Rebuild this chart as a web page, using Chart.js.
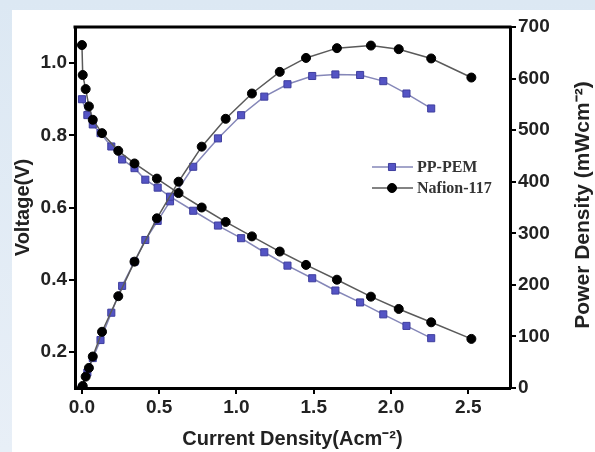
<!DOCTYPE html>
<html>
<head>
<meta charset="utf-8">
<script src="https://cdn.jsdelivr.net/npm/chart.js@4.4.1/dist/chart.umd.min.js"></script>
<style>
html, body { margin: 0; padding: 0; }
body { width: 595px; height: 452px; position: relative; overflow: hidden;
       background: linear-gradient(180deg, #dce8f3, #e8eff7); }
#panel { position: absolute; left: 12px; top: 10px; width: 583px; height: 442px; background: #fff; }
#wrap { position: absolute; left: 0; top: 0; width: 595px; height: 452px; }
</style>
</head>
<body>
<div id="panel"></div>
<div id="wrap"><canvas id="myChart"></canvas></div>
<script>
// PP-PEM: current density (A cm-2), voltage (V), power density (mW cm-2)
let ppCurrent = [0, 0.035, 0.07, 0.12, 0.19, 0.26, 0.34, 0.41, 0.49, 0.57, 0.72, 0.88, 1.03, 1.18, 1.33, 1.49, 1.64, 1.80, 1.95, 2.10, 2.26];
let ppVoltage = [0.90, 0.856, 0.83, 0.806, 0.769, 0.733, 0.709, 0.677, 0.655, 0.630, 0.591, 0.550, 0.515, 0.476, 0.439, 0.404, 0.370, 0.337, 0.304, 0.272, 0.238];
let ppPower = [0, 30, 58, 93, 146, 198, 245, 287, 324, 362, 429, 484, 529, 565, 589, 605, 608, 607, 595, 571, 542];

// Nafion-117
let nafCurrent = [0, 0.005, 0.024, 0.045, 0.07, 0.13, 0.235, 0.34, 0.485, 0.625, 0.775, 0.93, 1.10, 1.28, 1.45, 1.65, 1.87, 2.05, 2.26, 2.52];
let nafVoltage = [1.05, 0.967, 0.928, 0.88, 0.843, 0.806, 0.757, 0.722, 0.680, 0.640, 0.600, 0.560, 0.520, 0.478, 0.441, 0.400, 0.353, 0.319, 0.282, 0.236];
let nafPower = [0, 4, 22, 39, 61, 109, 178, 245, 329, 400, 468, 522, 571, 613, 640, 659, 664, 657, 639, 602];

// tick labels
let currentTicks = [0, 0.5, 1.0, 1.5, 2.0, 2.5];
let voltageTicks = [0.2, 0.4, 0.6, 0.8, 1.0];
let powerTicks = [0, 100, 200, 300, 400, 500, 600, 700];

let seriesNames = ['PP-PEM', 'Nafion-117'];

const ppColor = '#5454c4';
const ppLine = '#8587b8';
const nafLine = '#5a5a5a';

function pts(xs, ys) {
    return xs.map((x, i) => ({ x: x, y: ys[i] }));
}

const tickFont = { family: 'Arial, "Liberation Sans", sans-serif', size: 19, weight: 'bold' };
const titleFont = { family: 'Arial, "Liberation Sans", sans-serif', size: 20, weight: 'bold' };

let nafStyle = {
    pointStyle: 'circle', pointRadius: 4.5, backgroundColor: '#000', borderColor: nafLine,
    pointBackgroundColor: '#000', pointBorderColor: '#000', borderWidth: 1.5, pointBorderWidth: 1
};
let ppStyle = {
    pointStyle: 'rect', pointRadius: 5, backgroundColor: ppColor, borderColor: ppLine,
    pointBackgroundColor: ppColor, pointBorderColor: '#3e3e9e', borderWidth: 1.5, pointBorderWidth: 1
};

let data = {
    datasets: [
        Object.assign({ label: seriesNames[1], data: pts(nafCurrent, nafVoltage), yAxisID: 'y' }, nafStyle),
        Object.assign({ label: seriesNames[1] + ' power', data: pts(nafCurrent, nafPower), yAxisID: 'y2' }, nafStyle),
        Object.assign({ label: seriesNames[0], data: pts(ppCurrent, ppVoltage), yAxisID: 'y' }, ppStyle),
        Object.assign({ label: seriesNames[0] + ' power', data: pts(ppCurrent, ppPower), yAxisID: 'y2' }, ppStyle)
    ]
};

function axisCommon(tickList, fmt) {
    return {
        afterBuildTicks: s => { s.ticks = tickList.map(v => ({ value: v })); },
        ticks: { font: tickFont, color: '#222', padding: 2, callback: fmt },
        grid: { drawOnChartArea: false, drawTicks: true, tickLength: 6, color: '#000', lineWidth: 2 },
        border: { display: true, color: '#000', width: 3 }
    };
}

// top frame, right-hand title and legend
const extras = {
    id: 'extras',
    afterDraw(chart) {
        const ctx = chart.ctx;
        const a = chart.chartArea;
        ctx.save();
        ctx.strokeStyle = '#000';
        ctx.lineWidth = 3;
        ctx.beginPath();
        ctx.moveTo(a.left - 1.5, a.top);
        ctx.lineTo(a.right + 1.5, a.top);
        ctx.stroke();

        ctx.translate(583, 205);
        ctx.rotate(-Math.PI / 2);
        ctx.font = 'bold 21px Arial, "Liberation Sans", sans-serif';
        ctx.fillStyle = '#222';
        ctx.textAlign = 'center';
        ctx.textBaseline = 'middle';
        ctx.fillText('Power Density (mWcm\u207B\u00B2)', 0, 0);
        ctx.restore();

        // legend
        const rows = [
            { name: seriesNames[0], st: ppStyle, y: 167 },
            { name: seriesNames[1], st: nafStyle, y: 188 }
        ];
        ctx.save();
        rows.forEach(r => {
            ctx.strokeStyle = r.st.borderColor;
            ctx.lineWidth = 1.5;
            ctx.beginPath();
            ctx.moveTo(372, r.y);
            ctx.lineTo(413, r.y);
            ctx.stroke();
            ctx.fillStyle = r.st.pointBackgroundColor;
            ctx.strokeStyle = r.st.pointBorderColor;
            ctx.lineWidth = 1;
            Chart.helpers.drawPoint(ctx, { pointStyle: r.st.pointStyle, radius: r.st.pointRadius, rotation: 0, borderWidth: 1 }, 392, r.y);
            ctx.fillStyle = '#333';
            ctx.font = 'bold 16px "Times New Roman", "Liberation Serif", serif';
            ctx.textAlign = 'left';
            ctx.textBaseline = 'middle';
            ctx.fillText(r.name, 417, r.y + 1);
        });
        ctx.restore();
    }
};

let ctx = document.getElementById('myChart').getContext('2d');
let chart = new Chart(ctx, {
    type: 'line',
    data: data,
    options: {
        responsive: true,
        maintainAspectRatio: false,
        devicePixelRatio: 1,
        animation: false,
        layout: { padding: { top: 27, left: 0, right: 0, bottom: 0 } },
        plugins: { legend: { display: false }, tooltip: { enabled: false } },
        elements: { line: { tension: 0 } },
        scales: {
            x: Object.assign(axisCommon(currentTicks, v => v.toFixed(1)), {
                type: 'linear', position: 'bottom', min: -0.045, max: 2.77,
                afterFit: s => { s.height = 64; },
                title: { display: true, text: 'Current Density(Acm\u207B\u00B2)', font: titleFont, color: '#222', padding: { top: 0, bottom: 1 } }
            }),
            y: Object.assign(axisCommon(voltageTicks, v => v.toFixed(1)), {
                type: 'linear', position: 'left', min: 0.1, max: 1.1,
                afterFit: s => { s.width = 75; },
                title: { display: true, text: 'Voltage(V)', font: titleFont, color: '#222', padding: { top: 11, bottom: 0 } }
            }),
            y2: Object.assign(axisCommon(powerTicks, v => String(v)), {
                type: 'linear', position: 'right', min: 0, max: 700,
                afterFit: s => { s.width = 85; }
            })
        }
    },
    plugins: [extras]
});
</script>
</body>
</html>
